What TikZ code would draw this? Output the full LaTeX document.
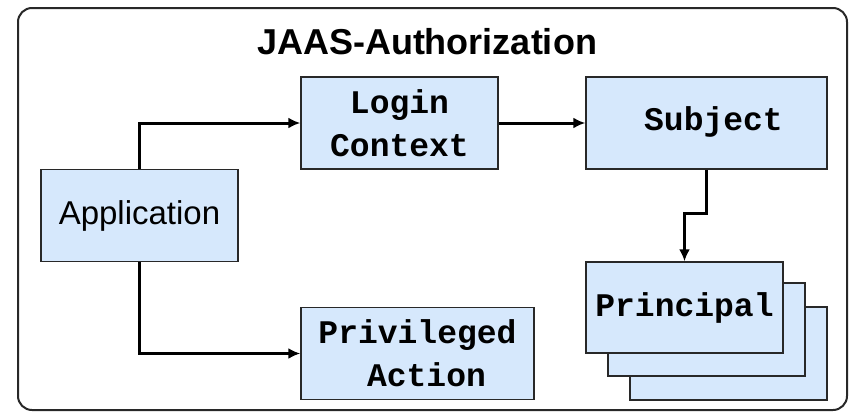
\documentclass[tikz,border=0pt]{standalone}
\usepackage{fontspec}
\setmainfont{Liberation Sans}
\setsansfont{Liberation Sans}
\setmonofont{Liberation Mono}
\usepackage{tikz}
\usetikzlibrary{calc, arrows.meta, positioning}

\definecolor{boxblue}{RGB}{214,232,252}
\definecolor{boxline}{RGB}{40,40,40}

\begin{document}
\begin{tikzpicture}[
        x=1pt, y=-1pt,
        block/.style={
            rectangle, draw=boxline, line width=1.4pt, fill=boxblue,
            minimum width=197pt, minimum height=92pt, inner sep=0pt,
            align=center, font=\fontsize{33}{43}\selectfont\ttfamily\bfseries
        },
        appblock/.style={
            block, font=\fontsize{33}{40}\selectfont\sffamily
        },
        frame/.style={draw=boxline, line width=2pt, rounded corners=14pt},
        arrow/.style={-{Latex[length=12pt,width=11pt]}, line width=3pt, color=black}
    ]

    \useasboundingbox (0,0) rectangle (851,415);

    % OUTER FRAME
    \draw[frame] (18,8) rectangle (847,410);
    \node[font=\fontsize{36}{40}\selectfont\bfseries] (title) at (427,42) {JAAS-Authorization};

    % APPLICATION
    \node[appblock] (app) at (139.5,215.5) {Application};

    % LOGIN CONTEXT AND SUBJECT
    \node[block] (login) at (399.5,123) {Login\\Context};
    \node[block, minimum width=241pt] (subject) at (706.5,123)
        {\raisebox{8pt}{\hspace*{14pt}Subject}};

    % PRIVILEGED ACTION
    \node[block, minimum width=233pt] (priv) at (417.5,353.5) {Privileged\\\hspace*{18pt}Action};

    % PRINCIPAL STACK
    \node[block, minimum height=93pt] (pback) at (728.5,353.5) {};
    \node[block, minimum height=93pt] (pmid) at (706.5,329.5) {};
    \node[block, minimum height=91pt] (pfront) at (684.5,307.5)
        {\raisebox{6pt}{Principal}};

    % ARROWS
    \draw[arrow] (app.north) |- (login.west);
    \draw[arrow] (app.south) |- (priv.west);
    \draw[arrow] (login.east) -- (subject.west);
    \draw[arrow] (subject.south) -- ++(0,44) -| (pfront.north);

\end{tikzpicture}
\end{document}
